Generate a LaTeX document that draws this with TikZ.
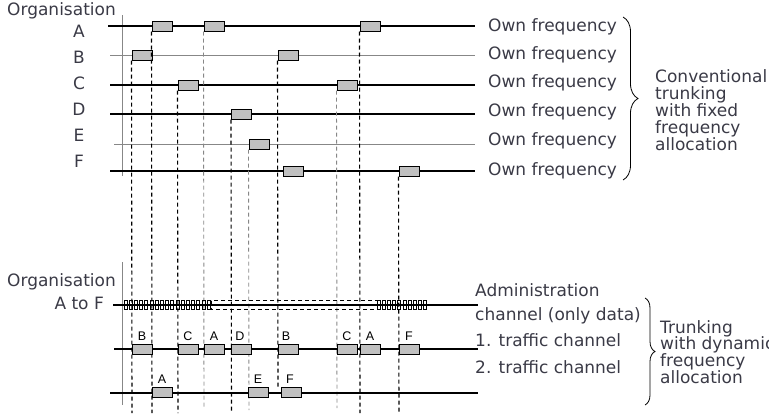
\documentclass[tikz,border=0pt]{standalone}
\usepackage{fontspec}
\setmainfont{DejaVu Sans}
\newfontfamily\lblfont{Liberation Sans}
\usetikzlibrary{decorations.pathreplacing}
\definecolor{txtc}{RGB}{58,58,70}
\definecolor{boxc}{RGB}{192,192,192}
\definecolor{lgray}{RGB}{135,135,135}
\begin{document}
\begin{tikzpicture}[x=1pt,y=-1pt,
 lbl/.style={font=\fontsize{17}{17}\selectfont, text=txtc, inner sep=0pt},
 slot/.style={draw=black, fill=boxc, line width=1pt, minimum width=20pt, minimum height=10pt, inner sep=0pt},
 chan/.style={line width=1.1pt, black},
 chang/.style={line width=0.9pt, lgray},
 vdash/.style={line width=1.1pt, black, dash pattern=on 4pt off 3pt},
 vdashg/.style={line width=0.9pt, lgray, dash pattern=on 4pt off 3pt},
 tag/.style={font=\lblfont\fontsize{12.5}{12.5}\selectfont, inner sep=0pt, anchor=base},
 tick/.style={draw=black, line width=0.7pt},
 brc/.style={decorate, line width=0.8pt, black},
]
\useasboundingbox (0,0) rectangle (769,415);
\clip (0,0) rectangle (769,415);

% ---------- top section: conventional trunking ----------
\node[lbl, anchor=base west] (org1) at (7,16) {Organisation};
\node[lbl, anchor=base] (la) at (79,37) {A};
\node[lbl, anchor=base] (lb) at (79,63) {B};
\node[lbl, anchor=base] (lc) at (79,89) {C};
\node[lbl, anchor=base] (ld) at (79,115) {D};
\node[lbl, anchor=base] (le) at (79,141) {E};
\node[lbl, anchor=base] (lf) at (79,167) {F};

\draw[line width=0.8pt, lgray] (122,15) coordinate (v1t) -- (122,176) coordinate (v1b);

\coordinate (ra0) at (108,26);  \coordinate (ra1) at (475,26);
\coordinate (rb0) at (110,55);  \coordinate (rb1) at (475,55);
\coordinate (rc0) at (110,85);  \coordinate (rc1) at (475,85);
\coordinate (rd0) at (110,114); \coordinate (rd1) at (475,114);
\coordinate (re0) at (114,144); \coordinate (re1) at (475,144);
\coordinate (rf0) at (110,171); \coordinate (rf1) at (475,171);
\draw[chan]  (ra0) -- (ra1);
\draw[chang] (rb0) -- (rb1);
\draw[chan]  (rc0) -- (rc1);
\draw[chan]  (rd0) -- (rd1);
\draw[chang] (re0) -- (re1);
\draw[chan]  (rf0) -- (rf1);

\node[lbl, anchor=base west] (ofa) at (488,31) {Own frequency};
\node[lbl, anchor=base west] (ofb) at (488,59) {Own frequency};
\node[lbl, anchor=base west] (ofc) at (488,87.5) {Own frequency};
\node[lbl, anchor=base west] (ofd) at (488,116.5) {Own frequency};
\node[lbl, anchor=base west] (ofe) at (488,145.5) {Own frequency};
\node[lbl, anchor=base west] (off) at (488,175.5) {Own frequency};

\node[slot] (a1) at (162,26) {};
\node[slot] (a2) at (214,26) {};
\node[slot] (a3) at (370,26) {};
\node[slot] (b1) at (142,55) {};
\node[slot] (b2) at (288,55) {};
\node[slot] (c1) at (188,85) {};
\node[slot] (c2) at (347,85) {};
\node[slot] (d1) at (241.5,114) {};
\node[slot] (e1) at (259,144) {};
\node[slot] (f1) at (293,171) {};
\node[slot] (f2) at (409,171) {};

\draw[brc, decoration={brace, amplitude=15pt}] (623,17) coordinate (br1t) -- (623,180) coordinate (br1b);
\node[lbl, anchor=north west, align=left] (conv) at (655,69.1)
  {Conventional\\trunking\\with fixed\\frequency\\allocation};

% ---------- bottom section: trunking with dynamic allocation ----------
\node[lbl, anchor=base west] (org2) at (7,286) {Organisation};
\node[lbl, anchor=base east] (atof) at (104,309) {A to F};
\draw[line width=0.8pt, lgray] (122,262) coordinate (v2t) -- (122,405) coordinate (v2b);

% dashed time markers
\coordinate (eb1) at (132,413);
\coordinate (ea1) at (152,413);
\coordinate (ec1) at (178,413);
\coordinate (ea2) at (204,408);
\coordinate (ed1) at (231.5,413);
\coordinate (ee1) at (249,410);
\coordinate (eb2) at (278,387);
\coordinate (ec2) at (337,408);
\coordinate (ea3) at (360,413);
\coordinate (ef2) at (399,413);
\draw[vdash]  (b1.south west) -- (eb1);
\draw[vdash]  (a1.south west) -- (ea1);
\draw[vdash]  (c1.south west) -- (ec1);
\draw[vdashg] (a2.south west) -- (ea2);
\draw[vdash]  (d1.south west) -- (ed1);
\draw[vdashg] (e1.south west) -- (ee1);
\draw[vdash]  (b2.south west) -- (eb2);
\draw[vdashg] (c2.south west) -- (ec2);
\draw[vdash]  (a3.south west) -- (ea3);
\draw[vdash]  (f2.south west) -- (ef2);

% administration channel
\coordinate (adm0) at (113,305); \coordinate (adm1) at (478,305);
\draw[chan] (adm0) -- (adm1);
\foreach \i in {0,...,16} \draw[tick] ({124+5.2*\i},300.5) rectangle ++(3,9);
\foreach \i in {0,...,9} \draw[tick] ({377+5.2*\i},300.5) rectangle ++(3,9);
\draw[tick, dash pattern=on 4pt off 3pt] (211,300.5) rectangle (377,309.5);

% traffic channels
\coordinate (t10) at (114,349); \coordinate (t11) at (478,349);
\coordinate (t20) at (110,393); \coordinate (t21) at (478,393);
\draw[chan] (t10) -- (t11);
\draw[chan] (t20) -- (t21);

\node[slot] (tb1) at (142,349.5) {};
\node[slot] (tc1) at (188,349.5) {};
\node[slot] (ta1) at (214,349.5) {};
\node[slot] (td1) at (241,349.5) {};
\node[slot] (tb2) at (288,349.5) {};
\node[slot] (tc2) at (347,349.5) {};
\node[slot] (ta2) at (370,349.5) {};
\node[slot] (tf1) at (409,349.5) {};
\node[slot] (sa1) at (162,392.5) {};
\node[slot] (se1) at (258.5,392.5) {};
\node[slot] (sf1) at (291,392.5) {};

\node[tag] (gb1) at (142,340) {B};
\node[tag] (gc1) at (188,340) {C};
\node[tag] (ga1) at (214,340) {A};
\node[tag] (gd1) at (240,340) {D};
\node[tag] (gb2) at (286,340) {B};
\node[tag] (gc2) at (347,340) {C};
\node[tag] (ga2) at (370,340) {A};
\node[tag] (gf1) at (409,340) {F};
\node[tag] (ha1) at (162,383) {A};
\node[tag] (he1) at (258,383) {E};
\node[tag] (hf1) at (290,383) {F};

\node[lbl, anchor=base west] (adm) at (475,296) {Administration};
\node[lbl, anchor=base west] (admb) at (475,320) {channel (only data)};
\node[lbl, anchor=base west] (tr1) at (475,346) {1. traffic channel};
\node[lbl, anchor=base west] (tr2) at (475,373) {2. traffic channel};

\draw[brc, decoration={brace, amplitude=10pt}] (645,298) coordinate (br2t) -- (645,405) coordinate (br2b);
\node[lbl, anchor=north west, align=left, font=\fontsize{17}{16.7}\selectfont] (dyn) at (660,320.1)
  {Trunking\\with dynamic\\frequency\\allocation};
\end{tikzpicture}
\end{document}
